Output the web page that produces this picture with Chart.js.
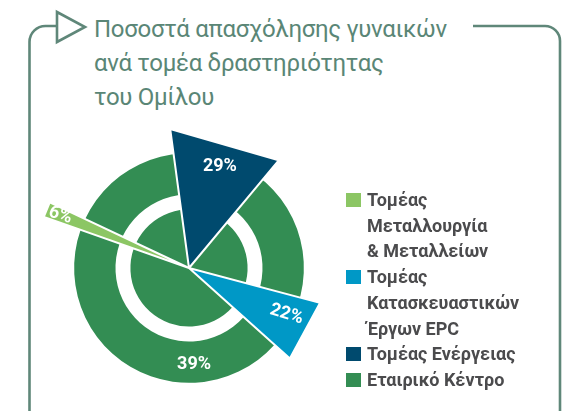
<!DOCTYPE html>
<html>
<head>
<meta charset="utf-8">
<script src="https://cdn.jsdelivr.net/npm/chart.js@4.4.1/dist/chart.umd.min.js"></script>
<style>
  body { margin: 0; background: #fff; }
  #wrap { position: relative; width: 566px; height: 411px; overflow: hidden; background: #fff; }
  #frame { position: absolute; left: 0; top: 0; }
  #title { position: absolute; left: 94px; top: 12px; font-family: Roboto, sans-serif; font-weight: 400;
           font-size: 24px; line-height: 34px; letter-spacing: -0.3px; color: #5a8676; white-space: pre-line; }
  #pieBox { position: absolute; left: 19px; top: 98px; width: 340px; height: 340px; }
  #legend { position: absolute; left: 346px; top: 187px; margin: 0; padding: 0; list-style: none;
            font-family: Roboto, sans-serif; font-weight: 700; font-size: 18px; line-height: 25.7px; color: #4b4b4d; }
  #legend li { position: relative; padding-left: 21px; white-space: pre-line; }
  #legend li span { position: absolute; left: 0; top: 6px; width: 15px; height: 14px; }
</style>
</head>
<body>
<div id="wrap">
  <svg id="frame" width="566" height="411">
    <g fill="none" stroke="#5f8779" stroke-width="2.6">
      <path d="M29.5,420 L29.5,42 A16,16 0 0 1 45.5,26 L57,26"/>
      <path d="M57,12 L57,42 L85,27 Z" stroke-linejoin="miter"/>
      <path d="M473,26 L545,26 A15,15 0 0 1 560,41 L560,420"/>
    </g>
  </svg>
  <div id="title">Ποσοστά απασχόλησης γυναικών
ανά τομέα δραστηριότητας
του Ομίλου</div>
  <div id="pieBox"><canvas id="pie" width="340" height="340"></canvas></div>
  <ul id="legend"></ul>
</div>
<script>
// sectors, share of women employed
const categories = ['Τομέας\nΜεταλλουργία\n& Μεταλλείων', 'Τομέας\nΚατασκευαστικών\nΈργων EPC', 'Τομέας Ενέργειας', 'Εταιρικό Κέντρο'];
const shares = [6, 22, 29, 39];
const colours = ['#8cc664', '#0098c6', '#004a6e', '#338d53'];

// the drawing is not to scale: each of the first three sectors is a wedge
// (degrees clockwise from 12 o'clock), reach relative to the Εταιρικό Κέντρο disc = 100
const wedgeStart = [-70.6, 104.9, -7.7];
const wedgeEnd = [-64.8, 131.9, 39.8];
const wedgeReach = [134, 118, 122];
// Εταιρικό Κέντρο disc: outer disc, white band, inner disc
const discReach = [100, 64, 51];

// legend
const legendEl = document.getElementById('legend');
categories.forEach((c, i) => {
  const li = document.createElement('li');
  li.innerHTML = '<span style="background:' + colours[i] + '"></span>';
  li.appendChild(document.createTextNode(c));
  legendEl.appendChild(li);
});

// wedge dataset with transparent gaps between wedges, in clockwise order
const idx = [0, 1, 2].sort((a, b) => wedgeStart[a] - wedgeStart[b]);
const first = wedgeStart[idx[0]];
var segData = [], segAngle = [], segColour = [], segBorder = [], segCat = [];
idx.forEach((k, n) => {
  segData.push(wedgeReach[k]);
  segAngle.push(wedgeEnd[k] - wedgeStart[k]);
  segColour.push(colours[k]);
  segBorder.push(2);
  segCat.push(k);
  const nextStart = n < idx.length - 1 ? wedgeStart[idx[n + 1]] : first + 360;
  segData.push(0);
  segAngle.push(nextStart - wedgeEnd[k]);
  segColour.push('rgba(0,0,0,0)');
  segBorder.push(0);
  segCat.push(-1);
});

// where the percentages sit: [angle clockwise from top, reach]
const labelAt = { 0: [-67.7, 121], 1: [115.4, 94], 2: [17, 92], 3: [177, 84] };
const labelTilt = { 0: 18, 1: 17, 2: 0, 3: 0 };

const percentLabels = {
  id: 'percentLabels',
  afterDatasetsDraw(chart) {
    const ctx = chart.ctx;
    const scale = chart.scales.r;
    ctx.save();
    ctx.fillStyle = '#fff';
    ctx.font = 'bold 18px Roboto, sans-serif';
    ctx.textAlign = 'center';
    ctx.textBaseline = 'middle';
    shares.forEach((s, i) => {
      const a = labelAt[i][0] * Math.PI / 180;
      const d = scale.getDistanceFromCenterForValue(labelAt[i][1]);
      const x = scale.xCenter + Math.sin(a) * d;
      const y = scale.yCenter - Math.cos(a) * d;
      ctx.save();
      ctx.translate(x, y);
      ctx.rotate(labelTilt[i] * Math.PI / 180);
      ctx.fillText(s + '%', 0, 0);
      ctx.restore();
    });
    ctx.restore();
  }
};

const chartEl = document.getElementById('pie').getContext('2d');
const chart = new Chart(chartEl, {
  type: 'polarArea',
  data: {
    labels: segCat.map((c, i) => c >= 0 ? categories[c] : 'gap' + i),
    datasets: [
      { data: segData, angle: segAngle, backgroundColor: segColour, borderColor: '#fff',
        borderWidth: segBorder, circular: false, order: 0 },
      { data: [discReach[2]], angle: [360], backgroundColor: colours[3], borderWidth: 0, order: 1 },
      { data: [discReach[1]], angle: [360], backgroundColor: '#fff', borderWidth: 0, order: 2 },
      { data: [discReach[0]], angle: [360], backgroundColor: colours[3], borderWidth: 0, order: 3 }
    ]
  },
  options: {
    responsive: false,
    animation: false,
    events: [],
    layout: { padding: 0 },
    scales: {
      r: { display: false, min: 0, max: 148, startAngle: first }
    },
    plugins: { legend: { display: false }, tooltip: { enabled: false } }
  },
  plugins: [percentLabels]
});
</script>
</body>
</html>
